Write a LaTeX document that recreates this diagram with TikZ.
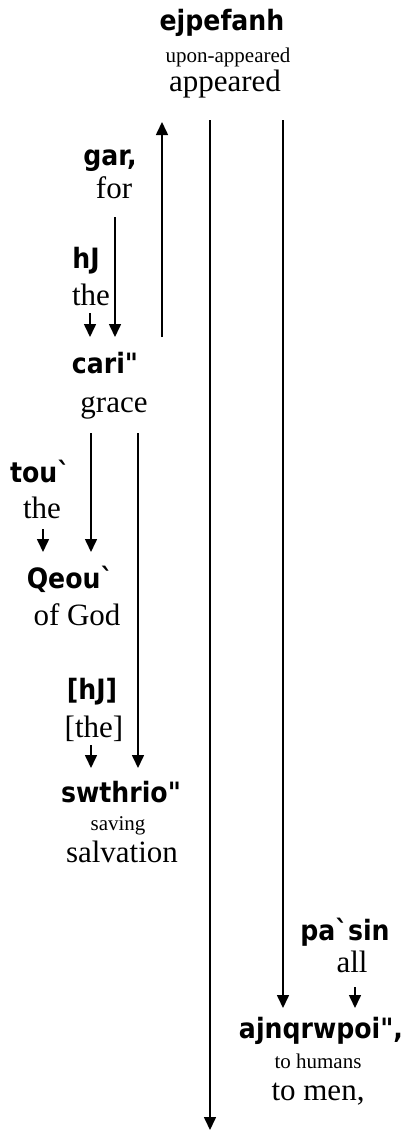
\documentclass[tikz,border=0pt]{standalone}
\usepackage{fontspec}
\setmainfont{Liberation Serif}
\newfontfamily\gkfont{DejaVu Sans}[FakeStretch=0.9]
\usetikzlibrary{arrows.meta}
\begin{document}
\begin{tikzpicture}[x=1pt,y=-1pt,
  gk/.style={font=\gkfont\bfseries\fontsize{28}{30}\selectfont, anchor=base, inner sep=0pt},
  lit/.style={font=\fontsize{21}{24}\selectfont, anchor=base, inner sep=0pt},
  en/.style={font=\fontsize{31}{34}\selectfont, anchor=base, inner sep=0pt},
  arr/.style={-{Triangle[length=13pt,width=12pt]}, line width=1.6pt}]
\useasboundingbox (0,0) rectangle (404,1132);
% texts
\node[gk] (epef) at (222,31) {ejpefanh};
\node[lit] (epefl) at (228,63) {upon-appeared};
\node[en] (epefe) at (225,92) {appeared};
\node[gk] (gar) at (110,165) {gar,};
\node[en] (gare) at (114,198) {for};
\node[gk] (h1) at (86,268) {hJ};
\node[en] (h1e) at (91,305) {the};
\node[gk] (cari) at (105,373) {cari"};
\node[en] (carie) at (114,412) {grace};
\node[gk] (tou) at (40,482) {tou`};
\node[en] (toue) at (42,518) {the};
\node[gk] (qeou) at (70,588) {Qeou`};
\node[en] (qeoue) at (77,625) {of God};
\node[gk] (h2) at (92,699) {[hJ]};
\node[en] (h2e) at (94,737) {[the]};
\node[gk] (swth) at (121,802) {swthrio"};
\node[lit] (swthl) at (118,830) {saving};
\node[en] (swthe) at (122,862) {salvation};
\node[gk] (pasin) at (345,940) {pa`sin};
\node[en] (pasine) at (352,972) {all};
\node[gk] (anqr) at (321,1038) {ajnqrwpoi",};
\node[lit] (anqrl) at (318,1068) {to humans};
\node[en] (anqre) at (318,1100) {to men,};
% connector end points
\coordinate (upS) at (162,337);
\coordinate (upE) at (162,122);
\coordinate (vA) at (210,120);
\coordinate (vAe) at (210,1130);
\coordinate (vB) at (283,120);
\coordinate (vBe) at (283,1008);
\coordinate (garS) at (115,217);
\coordinate (garE) at (115,337);
\coordinate (h1S) at (90,313);
\coordinate (h1E) at (90,337);
\coordinate (qS) at (91,433);
\coordinate (qE) at (91,552);
\coordinate (touS) at (43,529);
\coordinate (touE) at (43,552);
\coordinate (sS) at (138,433);
\coordinate (sE) at (138,768);
\coordinate (h2S) at (91,745);
\coordinate (h2E) at (91,768);
\coordinate (pS) at (355,987);
\coordinate (pE) at (355,1008);
% connectors
\draw[arr] (upS) -- (upE);
\draw[arr] (vA) -- (vAe);
\draw[arr] (vB) -- (vBe);
\draw[arr] (garS) -- (garE);
\draw[arr] (h1S) -- (h1E);
\draw[arr] (qS) -- (qE);
\draw[arr] (touS) -- (touE);
\draw[arr] (sS) -- (sE);
\draw[arr] (h2S) -- (h2E);
\draw[arr] (pS) -- (pE);
\end{tikzpicture}
\end{document}
